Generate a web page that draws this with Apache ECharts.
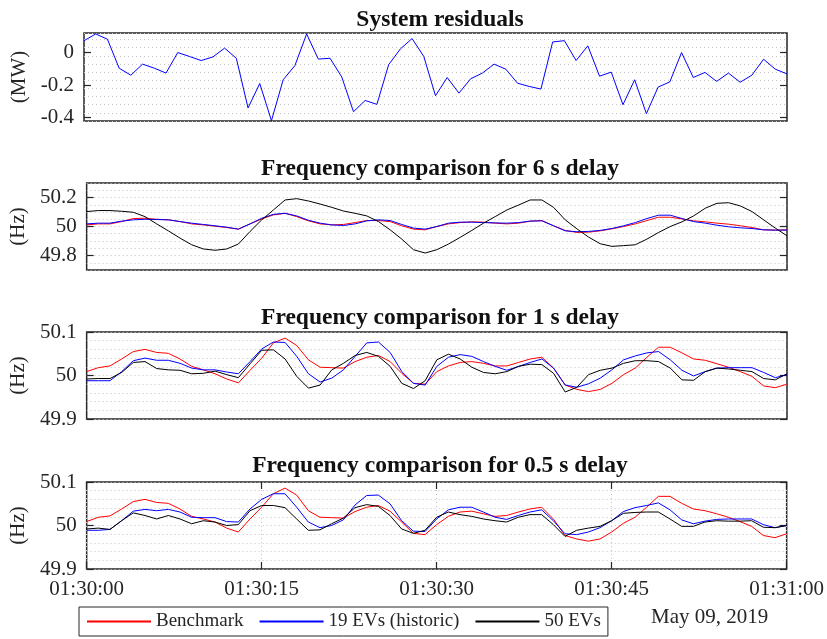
<!DOCTYPE html>
<html>
<head>
<meta charset="utf-8">
<script src="https://cdn.jsdelivr.net/npm/echarts@6/dist/echarts.min.js"></script>
<style>
  html, body { margin: 0; padding: 0; background: #fff; }
  #main { width: 827px; height: 639px; }
</style>
</head>
<body>
<div id="main"></div>
<script>
// sample times, seconds after 01:30:00
const seconds = [0, 1, 2, 3, 4, 5, 6, 7, 8, 9, 10, 11, 12, 13, 14, 15, 16, 17, 18, 19,
  20, 21, 22, 23, 24, 25, 26, 27, 28, 29, 30, 31, 32, 33, 34, 35, 36, 37, 38, 39,
  40, 41, 42, 43, 44, 45, 46, 47, 48, 49, 50, 51, 52, 53, 54, 55, 56, 57, 58, 59, 60]
const xTickLabels = ['01:30:00', '01:30:15', '01:30:30', '01:30:45', '01:31:00']

// system residuals (MW)
const residuals = [0.073, 0.114, 0.082, -0.096, -0.139, -0.071, -0.096, -0.126, 0.000, -0.024,
  -0.049, -0.027, 0.027, -0.035, -0.340, -0.190, -0.418, -0.167, -0.080, 0.114,
  -0.040, -0.035, -0.150, -0.363, -0.294, -0.318, -0.075, 0.022, 0.086, -0.024,
  -0.265, -0.153, -0.249, -0.161, -0.126, -0.071, -0.102, -0.188, -0.208, -0.224,
  0.065, 0.073, -0.049, 0.041, -0.145, -0.120, -0.320, -0.167, -0.375, -0.212,
  -0.180, 0.000, -0.153, -0.122, -0.177, -0.126, -0.182, -0.139, -0.041, -0.102, -0.131]

// 6 s delay (Hz)
const bench6 = [50.011, 50.018, 50.018, 50.034, 50.055, 50.057, 50.050, 50.046, 50.034, 50.018,
  50.011, 50.002, 49.993, 49.982, 50.018, 50.052, 50.080, 50.091, 50.068, 50.039,
  50.018, 50.011, 50.014, 50.027, 50.041, 50.041, 50.034, 50.005, 49.982, 49.977,
  50.000, 50.018, 50.027, 50.032, 50.030, 50.023, 50.018, 50.023, 50.037, 50.041,
  50.005, 49.973, 49.959, 49.961, 49.970, 49.984, 50.000, 50.018, 50.041, 50.064,
  50.064, 50.052, 50.039, 50.032, 50.023, 50.016, 50.005, 49.993, 49.977, 49.975, 49.977]
const hist6 = [50.018, 50.023, 50.023, 50.037, 50.046, 50.050, 50.048, 50.046, 50.034, 50.023,
  50.014, 50.005, 49.995, 49.982, 50.018, 50.057, 50.084, 50.091, 50.073, 50.043,
  50.023, 50.011, 50.007, 50.018, 50.039, 50.046, 50.041, 50.014, 49.989, 49.982,
  50.000, 50.023, 50.030, 50.030, 50.027, 50.025, 50.023, 50.027, 50.037, 50.039,
  50.005, 49.970, 49.964, 49.966, 49.973, 49.986, 50.005, 50.027, 50.055, 50.078,
  50.078, 50.055, 50.034, 50.023, 50.009, 49.998, 49.991, 49.986, 49.977, 49.975, 49.975]
const ev50_6 = [50.103, 50.110, 50.110, 50.105, 50.098, 50.068, 50.018, 49.970, 49.920, 49.874,
  49.845, 49.836, 49.845, 49.879, 49.966, 50.046, 50.114, 50.183, 50.192, 50.176,
  50.155, 50.132, 50.107, 50.091, 50.073, 50.034, 49.977, 49.913, 49.840, 49.817,
  49.840, 49.879, 49.925, 49.973, 50.023, 50.068, 50.114, 50.148, 50.183, 50.183,
  50.132, 50.046, 49.984, 49.927, 49.881, 49.863, 49.868, 49.874, 49.913, 49.959,
  50.000, 50.032, 50.073, 50.126, 50.160, 50.164, 50.142, 50.103, 50.046, 49.989, 49.936]

// 1 s delay (Hz)
const bench1 = [50.009, 50.018, 50.022, 50.038, 50.055, 50.060, 50.053, 50.051, 50.038, 50.021,
  50.013, 50.004, 49.992, 49.983, 50.012, 50.040, 50.075, 50.086, 50.069, 50.036,
  50.019, 50.018, 50.017, 50.032, 50.042, 50.046, 50.032, 50.005, 49.982, 49.980,
  50.009, 50.022, 50.030, 50.032, 50.028, 50.022, 50.022, 50.030, 50.038, 50.042,
  50.017, 49.978, 49.968, 49.963, 49.968, 49.982, 50.002, 50.017, 50.042, 50.065,
  50.065, 50.052, 50.038, 50.035, 50.027, 50.019, 50.009, 49.998, 49.976, 49.972, 49.980]
const hist1 = [49.988, 49.988, 49.988, 50.009, 50.034, 50.040, 50.035, 50.035, 50.028, 50.017,
  50.013, 50.013, 50.008, 50.004, 50.032, 50.061, 50.077, 50.076, 50.044, 50.004,
  49.985, 49.994, 50.013, 50.044, 50.075, 50.077, 50.053, 50.009, 49.982, 49.978,
  50.021, 50.042, 50.048, 50.044, 50.032, 50.021, 50.012, 50.021, 50.030, 50.038,
  50.017, 49.978, 49.973, 49.981, 49.994, 50.013, 50.036, 50.045, 50.052, 50.055,
  50.036, 50.012, 49.999, 50.009, 50.017, 50.018, 50.018, 50.018, 50.007, 49.995, 50.002]
const ev50_1 = [49.992, 49.993, 49.993, 50.007, 50.030, 50.032, 50.016, 50.013, 50.012, 50.004,
  50.005, 50.010, 50.002, 49.995, 50.027, 50.058, 50.059, 50.038, 49.998, 49.971,
  49.978, 50.013, 50.028, 50.046, 50.053, 50.044, 50.021, 49.982, 49.970, 49.988,
  50.036, 50.049, 50.038, 50.019, 50.007, 50.004, 50.009, 50.021, 50.026, 50.025,
  50.005, 49.962, 49.973, 50.002, 50.012, 50.017, 50.028, 50.034, 50.034, 50.032,
  50.017, 49.990, 49.989, 50.009, 50.017, 50.015, 50.012, 50.009, 49.993, 49.990, 50.004]

// 0.5 s delay (Hz)
const bench05 = [50.009, 50.019, 50.022, 50.038, 50.055, 50.060, 50.053, 50.051, 50.038, 50.021,
  50.015, 50.008, 49.994, 49.985, 50.015, 50.042, 50.073, 50.086, 50.070, 50.034,
  50.019, 50.018, 50.017, 50.032, 50.042, 50.046, 50.033, 50.008, 49.982, 49.979,
  50.002, 50.021, 50.031, 50.033, 50.027, 50.021, 50.023, 50.031, 50.038, 50.042,
  50.015, 49.977, 49.969, 49.964, 49.969, 49.985, 50.005, 50.019, 50.042, 50.067,
  50.067, 50.051, 50.038, 50.034, 50.027, 50.019, 50.009, 49.998, 49.977, 49.972, 49.981]
const hist05 = [49.989, 49.989, 49.991, 50.011, 50.033, 50.037, 50.034, 50.037, 50.031, 50.019,
  50.018, 50.018, 50.009, 50.008, 50.038, 50.060, 50.073, 50.073, 50.042, 50.008,
  49.995, 50.000, 50.013, 50.047, 50.069, 50.070, 50.050, 50.011, 49.987, 49.986,
  50.015, 50.036, 50.042, 50.042, 50.031, 50.019, 50.014, 50.023, 50.031, 50.036,
  50.011, 49.981, 49.979, 49.985, 49.995, 50.011, 50.032, 50.041, 50.046, 50.052,
  50.036, 50.013, 50.004, 50.010, 50.014, 50.015, 50.015, 50.015, 50.002, 49.995, 50.000]
const ev50_05 = [49.992, 49.994, 49.991, 50.011, 50.029, 50.023, 50.015, 50.023, 50.015, 50.004,
  50.011, 50.008, 50.000, 50.002, 50.034, 50.046, 50.046, 50.041, 50.015, 49.989,
  49.990, 50.004, 50.017, 50.041, 50.048, 50.044, 50.023, 49.992, 49.982, 49.989,
  50.019, 50.031, 50.025, 50.021, 50.015, 50.011, 50.008, 50.019, 50.025, 50.025,
  50.002, 49.975, 49.989, 49.994, 49.998, 50.011, 50.028, 50.030, 50.031, 50.031,
  50.015, 49.998, 49.998, 50.008, 50.011, 50.010, 50.010, 50.011, 49.996, 49.995, 50.000]

const titles = ['System residuals', 'Frequency comparison for 6 s delay',
  'Frequency comparison for 1 s delay', 'Frequency comparison for 0.5 s delay']
const yNames = ['(MW)', '(Hz)', '(Hz)', '(Hz)']
const yRanges = [[-0.42, 0.12], [49.7, 50.3], [49.9, 50.1], [49.9, 50.1]]
const yGridStep = [0.05, 0.05, 0.02, 0.02]
const yTicks = [[-0.4, -0.2, 0], [49.8, 50, 50.2], [49.9, 50, 50.1], [49.9, 50, 50.1]]

const FONT = 'Liberation Serif'
const AXIS_COLOR = '#262626'
const RED = '#ff0000'
const BLUE = '#0000ff'
const BLACK = '#000000'
const gridTops = [33, 183, 332, 482]
const gridHeights = [88, 87, 87, 87]
const titleTops = [3, 152, 301, 449]

const pair = (vals) => vals.map((v, i) => [seconds[i], v])

const grids = []
const xAxes = []
const yAxes = []
const titleList = []
for (let i = 0; i < 4; i++) {
  grids.push({
    left: 84, right: 40, top: gridTops[i], height: gridHeights[i],
    show: true, borderColor: AXIS_COLOR, borderWidth: 1.5
  })
  titleList.push({
    text: titles[i], left: 435, top: titleTops[i], textAlign: 'center',
    textStyle: { fontFamily: FONT, fontSize: 23.5, fontWeight: 'bold', color: '#111' }
  })
  const last = i === 3
  // bottom x axis
  xAxes.push({
    gridIndex: i, type: 'value', min: 0, max: 60, interval: 15, position: 'bottom',
    axisLine: { show: false },
    axisTick: { show: last, inside: true, length: 7, lineStyle: { color: AXIS_COLOR, width: 1.2 } },
    axisLabel: {
      show: last, margin: 10, fontFamily: FONT, fontSize: 21, color: AXIS_COLOR,
      formatter: (v) => xTickLabels[Math.round(v / 15)]
    },
    splitLine: { show: last, lineStyle: { type: [1, 3], color: '#c4c4c4' } }
  })
  // top x axis (ticks only)
  xAxes.push({
    gridIndex: i, type: 'value', min: 0, max: 60, interval: 15, position: 'top',
    axisLine: { show: false },
    axisTick: { show: last, inside: true, length: 7, lineStyle: { color: AXIS_COLOR, width: 1.2 } },
    axisLabel: { show: false },
    splitLine: { show: false }
  })
  const [mn, mx] = yRanges[i]
  // grid lines
  yAxes.push({
    gridIndex: i, type: 'value', min: mn, max: mx, interval: yGridStep[i], position: 'left',
    axisLine: { show: false }, axisTick: { show: false }, axisLabel: { show: false },
    splitLine: { show: true, lineStyle: { type: [1, 3], color: '#c4c4c4' } }
  })
  // left labels + ticks
  yAxes.push({
    gridIndex: i, type: 'value', min: mn, max: mx, position: 'left',
    name: yNames[i], nameLocation: 'middle', nameGap: 45, nameRotate: 90,
    nameTextStyle: { fontFamily: FONT, fontSize: 21, color: AXIS_COLOR },
    axisLine: { show: false },
    axisTick: { show: true, inside: true, length: 7, customValues: yTicks[i], lineStyle: { color: AXIS_COLOR, width: 1.2 } },
    axisLabel: {
      customValues: yTicks[i], margin: 10, fontFamily: FONT, fontSize: 21, color: AXIS_COLOR,
      formatter: (v) => String(Math.round(v * 10) / 10)
    },
    splitLine: { show: false }
  })
  // right ticks
  yAxes.push({
    gridIndex: i, type: 'value', min: mn, max: mx, position: 'right',
    axisLine: { show: false },
    axisTick: { show: true, inside: true, length: 7, customValues: yTicks[i], lineStyle: { color: AXIS_COLOR, width: 1.2 } },
    axisLabel: { show: false },
    splitLine: { show: false }
  })
}

const lineSeries = (name, vals, color, gi) => ({
  name: name, type: 'line', data: pair(vals),
  xAxisIndex: gi * 2, yAxisIndex: gi * 3,
  symbol: 'none', showSymbol: false, silent: true,
  lineStyle: { color: color, width: 1 }, itemStyle: { color: color }
})

const series = [
  lineSeries('System residuals', residuals, BLUE, 0),
  lineSeries('Benchmark', bench6, RED, 1),
  lineSeries('19 EVs (historic)', hist6, BLUE, 1),
  lineSeries('50 EVs', ev50_6, BLACK, 1),
  lineSeries('Benchmark', bench1, RED, 2),
  lineSeries('19 EVs (historic)', hist1, BLUE, 2),
  lineSeries('50 EVs', ev50_1, BLACK, 2),
  lineSeries('Benchmark', bench05, RED, 3),
  lineSeries('19 EVs (historic)', hist05, BLUE, 3),
  lineSeries('50 EVs', ev50_05, BLACK, 3)
]

const chart = echarts.init(document.getElementById('main'))
chart.setOption({
  animation: false,
  backgroundColor: '#fff',
  title: titleList,
  grid: grids,
  xAxis: xAxes,
  yAxis: yAxes,
  legend: {
    data: ['Benchmark', '19 EVs (historic)', '50 EVs'],
    left: 79, top: 607, orient: 'horizontal',
    itemWidth: 64, itemHeight: 12, itemGap: 15,
    itemStyle: { opacity: 0 },
    padding: [5, 7], borderColor: AXIS_COLOR, borderWidth: 1,
    textStyle: { fontFamily: FONT, fontSize: 19, color: AXIS_COLOR }
  },
  graphic: [{
    type: 'text', left: 651, top: 607,
    style: { text: 'May 09, 2019', font: '21px "Liberation Serif"', fill: AXIS_COLOR }
  }],
  series: series
})
</script>
</body>
</html>
